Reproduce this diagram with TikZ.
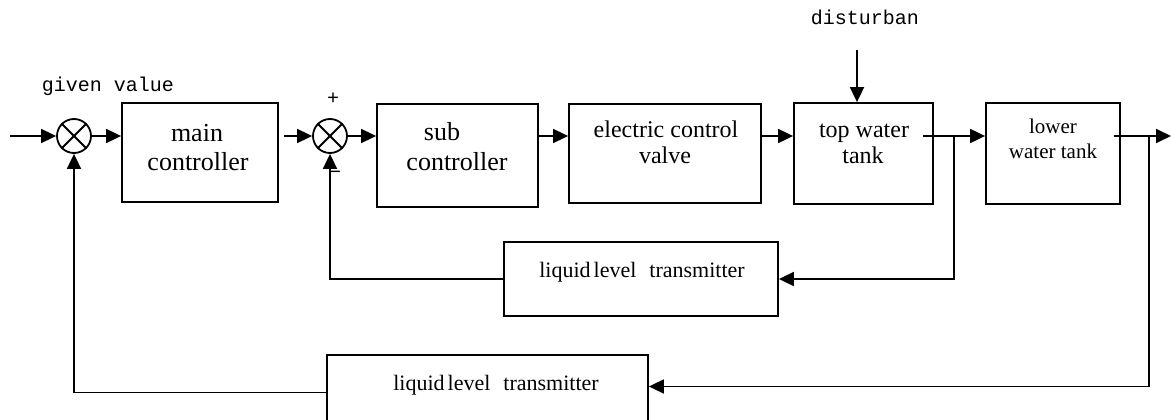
\documentclass[tikz,border=0pt]{standalone}
\usepackage{fontspec}
\setmainfont{Liberation Serif}
\newfontfamily\monof{Liberation Mono}
\usetikzlibrary{arrows.meta,calc}
\tikzset{
  ln/.style={line width=1.8pt},
  arr/.style={ln,-{Triangle[length=15pt,width=14pt]}},
  blk/.style={draw,line width=1.8pt,rectangle,inner sep=0pt},
  sumj/.style={draw,line width=1.8pt,circle,minimum size=34pt,inner sep=0pt},
  tb/.style={inner sep=0pt,anchor=base,font=\fontsize{26}{30}\selectfont},
  tl/.style={inner sep=0pt,anchor=base,font=\fontsize{24}{30}\selectfont},
  ts/.style={inner sep=0pt,anchor=base,font=\fontsize{21}{25}\selectfont},
  tt/.style={inner sep=0pt,anchor=base,font=\fontsize{22}{26}\selectfont},
  ml/.style={inner sep=0pt,anchor=base,font=\monof\fontsize{20}{24}\selectfont},
}
\begin{document}
\begin{tikzpicture}[x=1pt,y=-1pt]
\useasboundingbox (0,0) rectangle (1171,420);
\clip (0,0) rectangle (1171,420);
% summing junctions
\node[sumj] (s1) at (74,136) {};
\node[sumj] (s2) at (330,136) {};
\foreach \s in {s1,s2}{
  \draw[ln] (\s.north east) -- (\s.south west);
  \draw[ln] (\s.north west) -- (\s.south east);
}
% blocks
\node[blk,minimum width=156pt,minimum height=99pt] (main) at (200,152.5) {};
\node[blk,minimum width=161pt,minimum height=103pt] (sub) at (457.5,155.5) {};
\node[blk,minimum width=192pt,minimum height=99pt] (ecv) at (665,153.5) {};
\node[blk,minimum width=139pt,minimum height=101pt] (top) at (863.5,153.5) {};
\node[blk,minimum width=134pt,minimum height=101pt] (low) at (1053,153.5) {};
\node[blk,minimum width=274pt,minimum height=74pt] (inner) at (641,279) {};
\node[blk,minimum width=321pt,minimum height=75pt] (outer) at (487.5,392.5) {};
% block texts
\node[tb] (mainA) at (197,141) {main};
\node[tb] (mainB) at (198,170) {controller};
\node[tb] (subA) at (442,140) {sub};
\node[tb] (subB) at (457,170) {controller};
\node[tl] (ecvA) at (666,137) {electric control};
\node[tl] (ecvB) at (665,163) {valve};
\node[tl] (topA) at (864,137) {top water};
\node[tl] (topB) at (863,163) {tank};
\node[ts] (lowA) at (1053,133) {lower};
\node[ts] (lowB) at (1053,158) {water tank};
\node[tt] (innerT) at (642,277) {liquid\hspace{3pt}level\hspace{13pt}transmitter};
\node[tt] (outerT) at (496,390) {liquid\hspace{3pt}level\hspace{13pt}transmitter};
% mono labels
\node[ml] (given) at (108,92) {given value};
\node[ml] (distT) at (865,25) {disturban};
\node[ml] (plus) at (333,104) {+};
\node[ml] (minus) at (335,178) {−};
% coordinates
\coordinate (in) at (10,136);
\coordinate (out) at (1171,136);
\coordinate (dist) at (857,50);
\coordinate (b1) at (954,136);
\coordinate (b2) at (1149,136);
\path (top.east |- s2) ++(-11,0) coordinate (topout);
\path (low.east |- s2) ++(-7,0) coordinate (lowout);
% forward path
\draw[arr] (in) -- (s1.west);
\draw[arr] (s1.east) -- (s1 -| main.west);
\draw[arr] ([xshift=5pt]s1 -| main.east) -- (s2.west);
\draw[arr] (s2.east) -- (s2 -| sub.west);
\draw[arr] (s2 -| sub.east) -- (s2 -| ecv.west);
\draw[arr] (s2 -| ecv.east) -- (s2 -| top.west);
\draw[arr] (topout) -- (s2 -| low.west);
\draw[arr] (lowout) -- (out);
\draw[arr] (dist) -- (dist |- top.north);
% inner loop
\draw[arr] (b1) |- (inner.east);
\draw[arr] (inner.west) -| (s2.south);
% outer loop
\draw[arr] (b2) |- ($(outer.east)+(0,-6)$);
\draw[arr] (outer.west) -| (s1.south);
\end{tikzpicture}
\end{document}
